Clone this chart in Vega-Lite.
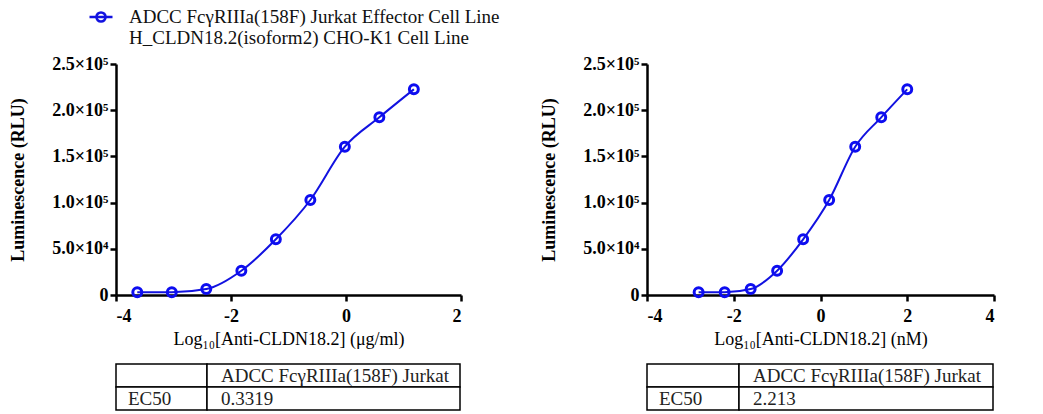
{
  "$schema": "https://vega.github.io/schema/vega-lite/v6.json",
  "background": "white",
  "padding": {"left": 9, "top": 4, "right": 0, "bottom": 0},
  "autosize": {"type": "pad"},
  "config": {
    "view": {"stroke": null},
    "font": "Liberation Serif",
    "axis": {
      "grid": false,
      "domainColor": "black",
      "domainWidth": 2.5,
      "tickColor": "black",
      "tickWidth": 2.5,
      "tickSize": 6,
      "labelFont": "Liberation Serif",
      "labelFontWeight": "bold",
      "labelFontSize": 18,
      "labelColor": "black",
      "titleFont": "Liberation Serif",
      "titleColor": "black"
    }
  },
  "datasets": {
    "left_pts": [
      {"series": "ADCC FcγRIIIa(158F) Jurkat Effector Cell Line| H_CLDN18.2(isoform2) CHO-K1 Cell Line", "logc": -3.63, "rlu": 3000},
      {"series": "ADCC FcγRIIIa(158F) Jurkat Effector Cell Line| H_CLDN18.2(isoform2) CHO-K1 Cell Line", "logc": -3.03, "rlu": 3000},
      {"series": "ADCC FcγRIIIa(158F) Jurkat Effector Cell Line| H_CLDN18.2(isoform2) CHO-K1 Cell Line", "logc": -2.43, "rlu": 6500},
      {"series": "ADCC FcγRIIIa(158F) Jurkat Effector Cell Line| H_CLDN18.2(isoform2) CHO-K1 Cell Line", "logc": -1.82, "rlu": 26300},
      {"series": "ADCC FcγRIIIa(158F) Jurkat Effector Cell Line| H_CLDN18.2(isoform2) CHO-K1 Cell Line", "logc": -1.22, "rlu": 60300},
      {"series": "ADCC FcγRIIIa(158F) Jurkat Effector Cell Line| H_CLDN18.2(isoform2) CHO-K1 Cell Line", "logc": -0.62, "rlu": 102800},
      {"series": "ADCC FcγRIIIa(158F) Jurkat Effector Cell Line| H_CLDN18.2(isoform2) CHO-K1 Cell Line", "logc": -0.02, "rlu": 160500},
      {"series": "ADCC FcγRIIIa(158F) Jurkat Effector Cell Line| H_CLDN18.2(isoform2) CHO-K1 Cell Line", "logc": 0.58, "rlu": 192300},
      {"series": "ADCC FcγRIIIa(158F) Jurkat Effector Cell Line| H_CLDN18.2(isoform2) CHO-K1 Cell Line", "logc": 1.18, "rlu": 222600}
    ],
    "right_pts": [
      {"series": "ADCC FcγRIIIa(158F) Jurkat Effector Cell Line| H_CLDN18.2(isoform2) CHO-K1 Cell Line", "logc": -2.81, "rlu": 3000},
      {"series": "ADCC FcγRIIIa(158F) Jurkat Effector Cell Line| H_CLDN18.2(isoform2) CHO-K1 Cell Line", "logc": -2.21, "rlu": 3000},
      {"series": "ADCC FcγRIIIa(158F) Jurkat Effector Cell Line| H_CLDN18.2(isoform2) CHO-K1 Cell Line", "logc": -1.61, "rlu": 6500},
      {"series": "ADCC FcγRIIIa(158F) Jurkat Effector Cell Line| H_CLDN18.2(isoform2) CHO-K1 Cell Line", "logc": -1.0, "rlu": 26300},
      {"series": "ADCC FcγRIIIa(158F) Jurkat Effector Cell Line| H_CLDN18.2(isoform2) CHO-K1 Cell Line", "logc": -0.4, "rlu": 60300},
      {"series": "ADCC FcγRIIIa(158F) Jurkat Effector Cell Line| H_CLDN18.2(isoform2) CHO-K1 Cell Line", "logc": 0.2, "rlu": 102800},
      {"series": "ADCC FcγRIIIa(158F) Jurkat Effector Cell Line| H_CLDN18.2(isoform2) CHO-K1 Cell Line", "logc": 0.8, "rlu": 160500},
      {"series": "ADCC FcγRIIIa(158F) Jurkat Effector Cell Line| H_CLDN18.2(isoform2) CHO-K1 Cell Line", "logc": 1.4, "rlu": 192300},
      {"series": "ADCC FcγRIIIa(158F) Jurkat Effector Cell Line| H_CLDN18.2(isoform2) CHO-K1 Cell Line", "logc": 2.0, "rlu": 222600}
    ],
    "left_tbl": [
      {"col": "a", "row": 1, "text": ""},
      {"col": "a", "row": 2, "text": "EC50"},
      {"col": "b", "row": 1, "text": "ADCC FcγRIIIa(158F) Jurkat"},
      {"col": "b", "row": 2, "text": "0.3319"}
    ],
    "right_tbl": [
      {"col": "a", "row": 1, "text": ""},
      {"col": "a", "row": 2, "text": "EC50"},
      {"col": "b", "row": 1, "text": "ADCC FcγRIIIa(158F) Jurkat"},
      {"col": "b", "row": 2, "text": "2.213"}
    ]
  },
  "spacing": 77,
  "hconcat": [
    {
      "bounds": "flush",
      "spacing": 69,
      "vconcat": [
        {
          "width": 345,
          "height": 231,
          "data": {"name": "left_pts"},
          "encoding": {
            "x": {"field": "logc", "type": "quantitative", "scale": {"domain": [-4, 2], "nice": false, "zero": false},
              "axis": {"values": [-4, -2, 0, 2], "labelExpr": "'' + datum.value", "labelPadding": 6, "title": "Log₁₀[Anti-CLDN18.2] (μg/ml)", "titleFontSize": 18, "titleFontWeight": "normal", "titlePadding": 5}},
            "y": {"field": "rlu", "type": "quantitative", "scale": {"domain": [0, 250000], "nice": false},
              "axis": {"values": [0, 50000, 100000, 150000, 200000, 250000], "labelExpr": "datum.value == 0 ? '0' : (datum.value < 100000 ? format(datum.value / 10000, '.1f') + '×10⁴' : format(datum.value / 100000, '.1f') + '×10⁵')", "labelPadding": 2, "title": "Luminescence (RLU)", "titleFontSize": 18, "titleFontWeight": "bold", "titlePadding": 24}}
          },
          "layer": [
            {
              "mark": {"type": "line", "interpolate": "monotone", "strokeWidth": 2},
              "encoding": {
                "color": {"field": "series", "type": "nominal", "scale": {"range": ["#1212e0"]},
                  "legend": {"title": null, "orient": "none", "legendX": -28, "legendY": -60, "padding": 0,
                    "symbolType": "M-1,0H1M-0.4,0A0.4,0.4,0,1,1,0.4,0A0.4,0.4,0,1,1,-0.4,0",
                    "symbolSize": 529, "symbolStrokeWidth": 2.5, "symbolStrokeColor": "#1212e0", "symbolFillColor": "transparent",
                    "labelFont": "Liberation Serif", "labelFontSize": 19, "labelColor": "#111", "labelBaseline": "middle", "labelOffset": 15, "labelLimit": 600,
                    "labelExpr": "split(datum.label, '|')"}}
              }
            },
            {
              "mark": {"type": "point", "shape": "circle", "filled": false, "size": 80, "strokeWidth": 3, "color": "#0d0df0", "opacity": 1}
            }
          ]
        },
        {
          "bounds": "flush",
          "spacing": 0,
          "hconcat": [
            {
              "width": 91, "height": 46,
              "data": {"name": "left_tbl"},
              "transform": [{"filter": "datum.col == 'a'"}],
              "encoding": {
                "y": {"field": "row", "type": "ordinal", "axis": null}
              },
              "layer": [
                {"mark": {"type": "rect", "fill": "white", "stroke": "black", "strokeWidth": 1.5},
                 "encoding": {"x": {"field": "col", "type": "nominal", "axis": null}}},
                {"mark": {"type": "text", "align": "left", "baseline": "middle", "dx": 12, "fontSize": 19, "font": "Liberation Serif", "color": "#222"},
                 "encoding": {"x": {"field": "col", "type": "nominal", "axis": null, "bandPosition": 0}, "text": {"field": "text"}}}
              ]
            },
            {
              "width": 253, "height": 46,
              "data": {"name": "left_tbl"},
              "transform": [{"filter": "datum.col == 'b'"}],
              "encoding": {
                "y": {"field": "row", "type": "ordinal", "axis": null}
              },
              "layer": [
                {"mark": {"type": "rect", "fill": "white", "stroke": "black", "strokeWidth": 1.5},
                 "encoding": {"x": {"field": "col", "type": "nominal", "axis": null}}},
                {"mark": {"type": "text", "align": "left", "baseline": "middle", "dx": 14, "fontSize": 19, "font": "Liberation Serif", "color": "#222"},
                 "encoding": {"x": {"field": "col", "type": "nominal", "axis": null, "bandPosition": 0}, "text": {"field": "text"}}}
              ]
            }
          ]
        }
      ]
    },
    {
      "bounds": "flush",
      "spacing": 69,
      "vconcat": [
        {
          "width": 347,
          "height": 231,
          "data": {"name": "right_pts"},
          "encoding": {
            "x": {"field": "logc", "type": "quantitative", "scale": {"domain": [-4, 4], "nice": false, "zero": false},
              "axis": {"values": [-4, -2, 0, 2, 4], "labelExpr": "'' + datum.value", "labelPadding": 6, "title": "Log₁₀[Anti-CLDN18.2] (nM)", "titleFontSize": 18, "titleFontWeight": "normal", "titlePadding": 5}},
            "y": {"field": "rlu", "type": "quantitative", "scale": {"domain": [0, 250000], "nice": false},
              "axis": {"values": [0, 50000, 100000, 150000, 200000, 250000], "labelExpr": "datum.value == 0 ? '0' : (datum.value < 100000 ? format(datum.value / 10000, '.1f') + '×10⁴' : format(datum.value / 100000, '.1f') + '×10⁵')", "labelPadding": 2, "title": "Luminescence (RLU)", "titleFontSize": 18, "titleFontWeight": "bold", "titlePadding": 24}}
          },
          "layer": [
            {
              "mark": {"type": "line", "interpolate": "monotone", "strokeWidth": 2},
              "encoding": {
                "color": {"field": "series", "type": "nominal", "scale": {"range": ["#1212e0"]},
                  "legend": {"title": null, "orient": "none", "legendX": -28, "legendY": -60, "padding": 0,
                    "symbolType": "M-1,0H1M-0.4,0A0.4,0.4,0,1,1,0.4,0A0.4,0.4,0,1,1,-0.4,0",
                    "symbolSize": 529, "symbolStrokeWidth": 2.5, "symbolStrokeColor": "#1212e0", "symbolFillColor": "transparent",
                    "labelFont": "Liberation Serif", "labelFontSize": 19, "labelColor": "#111", "labelBaseline": "middle", "labelOffset": 15, "labelLimit": 600,
                    "labelExpr": "split(datum.label, '|')"}}
              }
            },
            {
              "mark": {"type": "point", "shape": "circle", "filled": false, "size": 80, "strokeWidth": 3, "color": "#0d0df0", "opacity": 1}
            }
          ]
        },
        {
          "bounds": "flush",
          "spacing": 0,
          "hconcat": [
            {
              "width": 92, "height": 46,
              "data": {"name": "right_tbl"},
              "transform": [{"filter": "datum.col == 'a'"}],
              "encoding": {
                "y": {"field": "row", "type": "ordinal", "axis": null}
              },
              "layer": [
                {"mark": {"type": "rect", "fill": "white", "stroke": "black", "strokeWidth": 1.5},
                 "encoding": {"x": {"field": "col", "type": "nominal", "axis": null}}},
                {"mark": {"type": "text", "align": "left", "baseline": "middle", "dx": 12, "fontSize": 19, "font": "Liberation Serif", "color": "#222"},
                 "encoding": {"x": {"field": "col", "type": "nominal", "axis": null, "bandPosition": 0}, "text": {"field": "text"}}}
              ]
            },
            {
              "width": 254, "height": 46,
              "data": {"name": "right_tbl"},
              "transform": [{"filter": "datum.col == 'b'"}],
              "encoding": {
                "y": {"field": "row", "type": "ordinal", "axis": null}
              },
              "layer": [
                {"mark": {"type": "rect", "fill": "white", "stroke": "black", "strokeWidth": 1.5},
                 "encoding": {"x": {"field": "col", "type": "nominal", "axis": null}}},
                {"mark": {"type": "text", "align": "left", "baseline": "middle", "dx": 14, "fontSize": 19, "font": "Liberation Serif", "color": "#222"},
                 "encoding": {"x": {"field": "col", "type": "nominal", "axis": null, "bandPosition": 0}, "text": {"field": "text"}}}
              ]
            }
          ]
        }
      ]
    }
  ]
}
